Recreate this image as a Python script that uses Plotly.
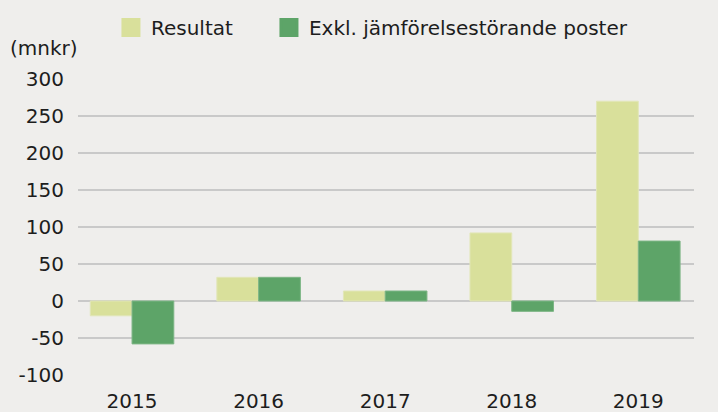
import plotly.graph_objects as go

years = ["2015", "2016", "2017", "2018", "2019"]
resultat = [-20, 32, 13.5, 92, 270]
exkl = [-58, 32, 13.5, -14, 81]
series_names = ["Resultat", "Exkl. jämförelsestörande poster"]
y_ticks = [-100, -50, 0, 50, 100, 150, 200, 250, 300]
y_tick_labels = ["-100", "-50", "0", "50", "100", "150", "200", "250", "300"]

c_res = "#d9e09b"
c_exkl = "#5da468"
bg = "#efeeec"
txt = "#1d1d1d"
font_family = "'DejaVu Sans', sans-serif"

fig = go.Figure()
fig.add_trace(go.Bar(x=years, y=resultat, name=series_names[0], showlegend=False,
                     marker=dict(color=c_res, line=dict(color="#e2e6b8", width=1))))
fig.add_trace(go.Bar(x=years, y=exkl, name=series_names[1], showlegend=False,
                     marker=dict(color=c_exkl, line=dict(color="#7db585", width=1))))
# legend entries with larger square swatches, one legend box each
for name, col, lg in zip(series_names, [c_res, c_exkl], ["legend", "legend2"]):
    fig.add_trace(go.Scatter(x=[None], y=[None], mode="markers", name=name, legend=lg,
                             marker=dict(symbol="square", size=16, color=col,
                                         line=dict(color=col, width=3))))

legend_common = dict(orientation="h", y=1.24, xanchor="left", yanchor="top",
                     bgcolor="rgba(0,0,0,0)", font=dict(size=20), itemwidth=30)

fig.update_layout(
    width=718, height=412,
    paper_bgcolor=bg, plot_bgcolor=bg,
    margin=dict(l=78, r=24, t=79, b=37, autoexpand=False),
    barmode="group", bargap=0.34, bargroupgap=0,
    font=dict(family=font_family, size=20, color=txt),
    showlegend=True,
    legend=dict(x=0.0535, **legend_common),
    legend2=dict(x=0.310, **legend_common),
    xaxis=dict(type="category", range=[-0.427, 4.44], showgrid=False, zeroline=False,
               showline=False, ticks="outside", ticklen=8, tickcolor="rgba(0,0,0,0)",
               tickfont=dict(size=20)),
    yaxis=dict(range=[-100, 300], tickvals=y_ticks, ticktext=y_tick_labels,
               showgrid=True, gridcolor="#c9c9c9",
               gridwidth=1.5, zeroline=True, zerolinecolor="#c9c9c9", zerolinewidth=1.5,
               showline=False, ticks="outside", ticklen=9, tickcolor="rgba(0,0,0,0)",
               tickfont=dict(size=20)),
    annotations=[dict(text="(mnkr)", xref="paper", yref="paper", x=-0.114, y=1.105,
                      xanchor="left", yanchor="middle", showarrow=False,
                      font=dict(size=20, color=txt))],
)

fig.write_html("out.html", config={"displayModeBar": False},
               post_script="document.body.style.margin='0';"
                           "document.body.style.background='#efeeec';"
                           "document.body.style.overflow='hidden';")
